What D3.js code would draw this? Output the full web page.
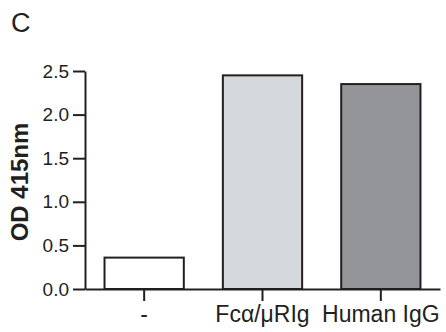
<!DOCTYPE html>
<html>
<head>
<meta charset="utf-8">
<script src="https://cdn.jsdelivr.net/npm/d3@7"></script>
<style>
html,body{margin:0;padding:0;background:#fff;}
svg{display:block;font-family:"Liberation Sans",Arial,Helvetica,sans-serif;}
</style>
</head>
<body>
<svg id="chart" width="446" height="332"></svg>
<script>
const categories = ["-", "Fcα/μRIg", "Human IgG"];
const values = [0.36, 2.45, 2.35];
const fills = ["#ffffff", "#d5d8db", "#939598"];
const yTicks = [0, 0.5, 1.0, 1.5, 2.0, 2.5];
const panelLabel = "C";
const yLabel = "OD 415nm";

const ink = "#231f20";
const svg = d3.select("#chart");
const x0 = 85, x1 = 440, yBottom = 289, yTop = 71;

const x = d3.scaleBand().domain(categories).range([x0, x1]).paddingInner(0.33).paddingOuter(0.165);
const y = d3.scaleLinear().domain([0, 2.5]).range([yBottom, yTop]);

// bars
svg.append("g").selectAll("rect").data(values).join("rect")
  .attr("x", (d, i) => x(categories[i]))
  .attr("y", d => y(d))
  .attr("width", x.bandwidth())
  .attr("height", d => y(0) - y(d))
  .attr("fill", (d, i) => fills[i])
  .attr("stroke", ink)
  .attr("stroke-width", 2);

// y axis
const yAxis = svg.append("g").attr("transform", `translate(${x0},0)`)
  .call(d3.axisLeft(y).tickValues(yTicks).tickFormat(d3.format(".1f")).tickSize(12).tickPadding(4).tickSizeOuter(0));
yAxis.selectAll("path,line").attr("stroke", ink).attr("stroke-width", 2);
yAxis.selectAll("text").attr("fill", ink).style("font-size", "19px").style("font-family", "'Liberation Sans',Arial,sans-serif");

// x axis
const xAxis = svg.append("g").attr("transform", `translate(0,${yBottom})`)
  .call(d3.axisBottom(x).tickSize(12).tickPadding(5).tickSizeOuter(0));
xAxis.selectAll("path,line").attr("stroke", ink).attr("stroke-width", 2);
xAxis.selectAll("text").attr("fill", ink).style("font-size", "23px").style("font-family", "'Liberation Sans',Arial,sans-serif");

// y label
svg.append("text")
  .attr("transform", "translate(28,182) rotate(-90)")
  .attr("text-anchor", "middle")
  .attr("fill", ink)
  .style("font-size", "24px")
  .style("font-weight", "bold")
  .text(yLabel);

// panel label
svg.append("text")
  .attr("x", 11).attr("y", 32)
  .attr("fill", ink)
  .style("font-size", "27px")
  .text(panelLabel);
</script>
</body>
</html>
